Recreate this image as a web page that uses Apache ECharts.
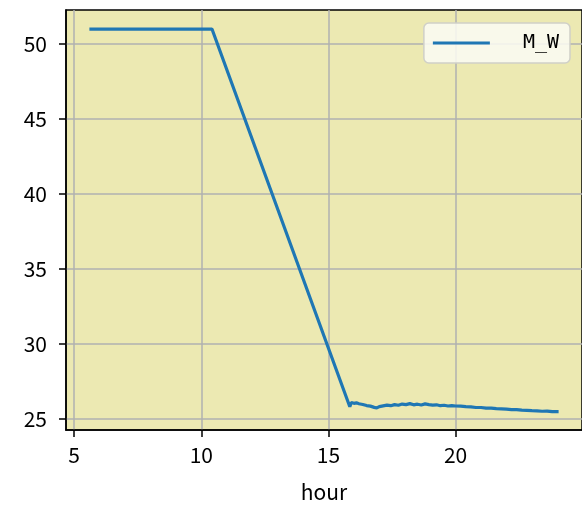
<!DOCTYPE html>
<html>
<head>
<meta charset="utf-8">
<script src="https://cdn.jsdelivr.net/npm/echarts@6/dist/echarts.min.js"></script>
<style>html,body{margin:0;padding:0;background:#fff}#c{width:582px;height:520px}</style>
</head>
<body>
<div id="c"></div>
<script>
const seriesName = 'M_W';
const hours = [5.6, 10.42, 15.84, 15.9, 16.0, 16.1, 16.2, 16.35, 16.5, 16.65, 16.8, 16.9, 17.0, 17.15, 17.3, 17.45, 17.6, 17.75, 17.9, 18.05, 18.2, 18.35, 18.5, 18.65, 18.8, 18.95, 19.1, 19.25, 19.4, 19.55, 19.7, 19.85, 20.0, 20.2, 20.4, 20.6, 20.8, 21.0, 21.2, 21.4, 21.6, 21.8, 22.0, 22.2, 22.4, 22.6, 22.8, 23.0, 23.2, 23.4, 23.6, 23.8, 24.05];
const values = [51.0, 51.0, 25.82, 26.1, 26.05, 26.08, 26.02, 25.97, 25.9, 25.86, 25.78, 25.74, 25.83, 25.88, 25.93, 25.89, 25.96, 25.92, 26.0, 25.96, 26.03, 25.95, 25.99, 25.94, 26.01, 25.96, 25.93, 25.95, 25.89, 25.92, 25.87, 25.9, 25.87, 25.86, 25.83, 25.81, 25.77, 25.77, 25.73, 25.73, 25.69, 25.68, 25.66, 25.63, 25.63, 25.59, 25.58, 25.56, 25.55, 25.52, 25.53, 25.49, 25.49];
const xTicks = [5, 10, 15, 20];
const yTicks = [25, 30, 35, 40, 45, 50];
const xName = 'hour';

const data = hours.map((h, i) => [h, values[i]]);
const chart = echarts.init(document.getElementById('c'));
const font = '"Noto Sans CJK JP", "Noto Sans", sans-serif';
chart.setOption({
  animation: false,
  grid: {
    left: 66, top: 10, right: -3, bottom: 90,
    show: true, backgroundColor: '#ece9b2', borderColor: '#000', borderWidth: 1.5
  },
  legend: {
    right: 12, top: 23,
    padding: [10, 11, 10, 9],
    icon: 'rect',
    itemWidth: 57, itemHeight: 3,
    backgroundColor: 'rgba(252,252,245,0.85)',
    borderColor: '#d0d0c8', borderWidth: 1.5, borderRadius: 5,
    textStyle: { fontFamily: '"DejaVu Sans Mono", monospace', fontSize: 20, color: '#000', padding: [0, 0, 0, 28] },
    data: [seriesName]
  },
  xAxis: {
    type: 'value', min: 4.68, max: 24.97,
    name: xName, nameLocation: 'middle', nameGap: 52,
    nameTextStyle: { fontFamily: font, fontSize: 21, color: '#000' },
    axisLine: { show: true, lineStyle: { color: '#000', width: 1.5 } },
    axisTick: { show: true, length: 7, lineStyle: { color: '#000', width: 1.5 }, customValues: xTicks },
    axisLabel: { fontFamily: font, fontSize: 21, color: '#000', margin: 15, customValues: xTicks },
    splitLine: { show: true, lineStyle: { color: '#b0b0b0', width: 1.5 } }
  },
  yAxis: {
    type: 'value', min: 24.27, max: 52.27,
    axisLine: { show: true, lineStyle: { color: '#000', width: 1.5 } },
    axisTick: { show: true, length: 7, lineStyle: { color: '#000', width: 1.5 }, customValues: yTicks },
    axisLabel: { fontFamily: font, fontSize: 21, color: '#000', margin: 19, customValues: yTicks },
    splitLine: { show: true, lineStyle: { color: '#b0b0b0', width: 1.5 } }
  },
  series: [{
    name: seriesName, type: 'line', data: data,
    symbol: 'none', showSymbol: false,
    lineStyle: { color: '#1f77b4', width: 3.2 },
    itemStyle: { color: '#1f77b4' }
  }]
});
</script>
</body>
</html>
